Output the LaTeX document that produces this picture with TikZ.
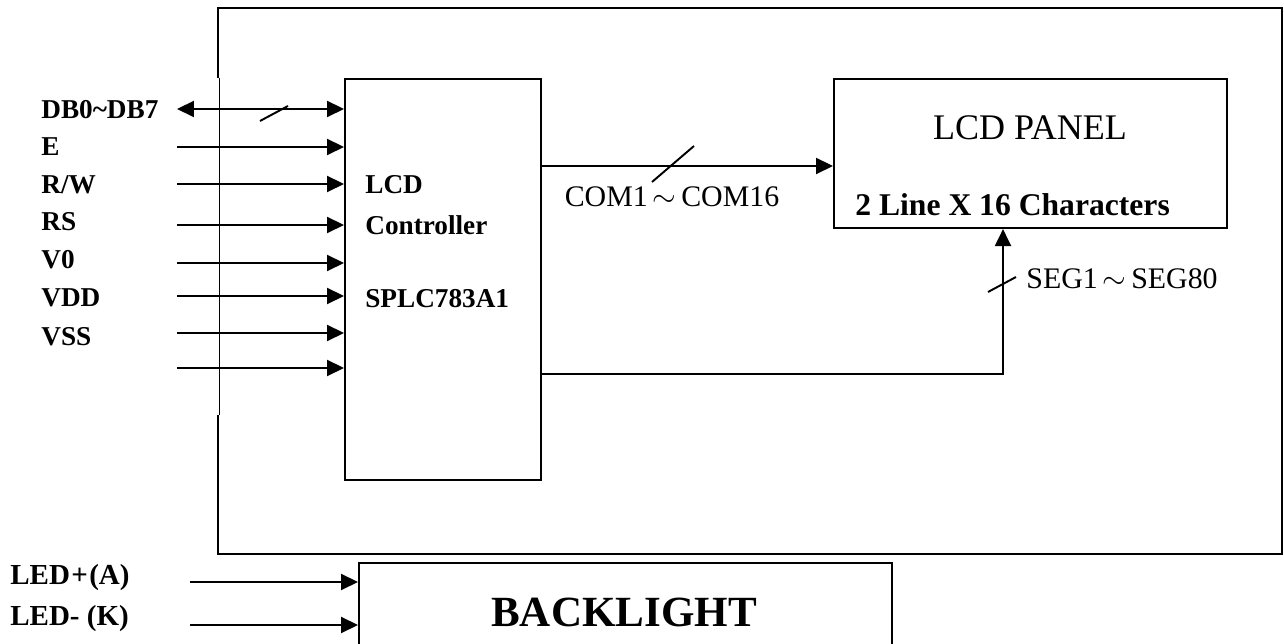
\documentclass[tikz,border=0pt]{standalone}
\usepackage{fontspec}
\setmainfont{Liberation Serif}
\usetikzlibrary{arrows.meta, calc}

\begin{document}
\begin{tikzpicture}[x=0.02cm, y=-0.02cm, >={Triangle[length=0.34cm, width=0.32cm]},
        block/.style={rectangle, draw, line width=1.2pt, inner sep=0pt},
        pinlabel/.style={anchor=west, inner sep=0pt, font=\bfseries\fontsize{15.5}{18}\selectfont},
        ledlabel/.style={anchor=west, inner sep=0pt, font=\bfseries\fontsize{16.5}{19}\selectfont},
        ctrltext/.style={anchor=west, inner sep=0pt, font=\bfseries\fontsize{15.5}{18}\selectfont},
        buslabel/.style={inner sep=0pt, font=\fontsize{17}{20}\selectfont},
        arrow/.style={->, line width=1.2pt},
        busmark/.style={line width=1.1pt}]

        \useasboundingbox (0,0) rectangle (1284,644);

        % module frame (left side broken where the pins enter)
        \draw[line width=1.2pt] (218,78) -- (218,8) -- (1282,8) -- (1282,554) -- (218,554) -- (218,415);
        \draw[line width=0.4pt] (219,78) -- (219,415);

        % blocks
        \node[block, anchor=north west, minimum width=3.92cm, minimum height=8.02cm] (ctrl) at (344,78) {};
        \node[block, anchor=north west, minimum width=7.86cm, minimum height=2.98cm] (panel) at (833,78) {};
        \node[block, anchor=north west, minimum width=10.66cm, minimum height=2cm] (backlight) at (358,562) {};

        % block texts
        \node[ctrltext] (ctrl1) at (365,185) {LCD};
        \node[ctrltext] (ctrl2) at (365,225) {Controller};
        \node[ctrltext] (ctrl3) at (365,299) {SPLC783A1};
        \node[inner sep=0pt, font=\fontsize{20.5}{24}\selectfont] (paneltitle) at (1030,128) {LCD PANEL};
        \node[anchor=west, inner sep=0pt, font=\bfseries\fontsize{18}{21}\selectfont] (panelsize) at (855,205) {2 Line X 16 Characters};
        \node[inner sep=0pt, font=\bfseries\fontsize{24.5}{28}\selectfont] (bltext) at (624,612) {BACKLIGHT};

        % pin labels
        \node[pinlabel] (db) at (41,110) {DB0\textasciitilde DB7};
        \node[pinlabel] (e) at (41,147) {E};
        \node[pinlabel] (rw) at (41,185) {R/W};
        \node[pinlabel] (rs) at (41,222) {RS};
        \node[pinlabel] (vo) at (41,260) {V0};
        \node[pinlabel] (vdd) at (41,298) {VDD};
        \node[pinlabel] (vss) at (41,337) {VSS};
        \node[ledlabel] (leda) at (10,578) {LED\kern0.8pt+\kern0.8pt(A)};
        \node[ledlabel] (ledk) at (10,619) {LED-\ (K)};

        % pin arrows
        \coordinate (indb) at (177,109);
        \coordinate (ine) at (177,147);
        \coordinate (inrw) at (177,184);
        \coordinate (inrs) at (177,225);
        \coordinate (invo) at (177,263);
        \coordinate (invdd) at (177,296);
        \coordinate (invss) at (177,333);
        \coordinate (innc) at (177,368);
        \coordinate (inleda) at (190,582);
        \coordinate (inledk) at (190,625);

        \draw[arrow, <->] (indb) -- (indb -| ctrl.west);
        \draw[arrow] (ine) -- (ine -| ctrl.west);
        \draw[arrow] (inrw) -- (inrw -| ctrl.west);
        \draw[arrow] (inrs) -- (inrs -| ctrl.west);
        \draw[arrow] (invo) -- (invo -| ctrl.west);
        \draw[arrow] (invdd) -- (invdd -| ctrl.west);
        \draw[arrow] (invss) -- (invss -| ctrl.west);
        \draw[arrow] (innc) -- (innc -| ctrl.west);
        \draw[arrow] (inleda) -- (inleda -| backlight.west);
        \draw[arrow] (inledk) -- (inledk -| backlight.west);
        \draw[busmark] (260,121) -- (288,106);

        % COM bus
        \coordinate (comy) at (0,166);
        \draw[arrow] (ctrl.east |- comy) -- (panel.west |- comy);
        \draw[busmark] (652,182) -- (694,146);
        \node[buslabel] (comlabel) at (672,197) {COM1\,$\sim$\,COM16};

        % SEG bus
        \coordinate (segcorner) at (1003,374);
        \draw[arrow] (ctrl.east |- segcorner) -| (segcorner |- panel.south);
        \draw[busmark] (988,292) -- (1016,277);
        \node[buslabel] (seglabel) at (1122,279) {SEG1\,$\sim$\,SEG80};
\end{tikzpicture}
\end{document}
